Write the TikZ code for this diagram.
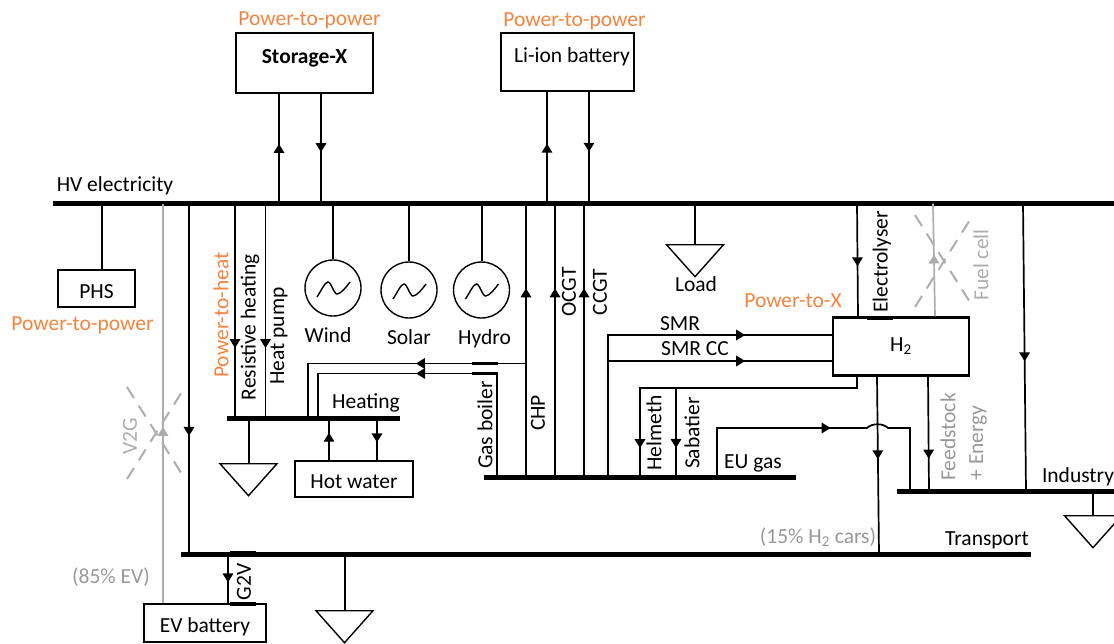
\documentclass[tikz,border=0pt]{standalone}
\usepackage{fontspec}
\setmainfont{Carlito}
\usepackage{tikz}
\usetikzlibrary{arrows.meta,positioning,shapes.geometric,shapes.misc,decorations.markings}

\definecolor{ptxorange}{HTML}{F4843F}
\definecolor{offgray}{HTML}{ADADAD}
\definecolor{notegray}{HTML}{989898}

\begin{document}
\begin{tikzpicture}[
      x=1pt, y=-1pt,
      every node/.style={font=\fontsize{21.5}{24}\selectfont},
      busbar/.style={rectangle, fill=black, inner sep=0pt, minimum height=5pt},
      linkbar/.style={rectangle, fill=black, inner sep=0pt, minimum width=26pt, minimum height=3.5pt},
      unit/.style={rectangle, draw, line width=2pt, inner sep=0pt, text height=14pt, text depth=5pt},
      generator/.style={circle, draw, line width=1.4pt, inner sep=0pt, minimum size=56pt,
            path picture={\draw[line width=1.4pt] (path picture bounding box.center) ++(-16,9)
                  .. controls +(4,-6) and +(-3,0) .. ++(11,-15)
                  .. controls +(3,0) and +(-3,0) .. ++(9,12)
                  .. controls +(4,0) and +(-3,4) .. ++(13,-12);}},
      loadsym/.style={isosceles triangle, shape border rotate=270, isosceles triangle stretches,
            draw, line width=1.4pt, inner sep=0pt, minimum width=57pt, minimum height=32pt, anchor=north},
      crossmark/.style={cross out, draw=offgray, line width=2pt, dash pattern=on 13pt off 9pt,
            inner sep=0pt, minimum width=56pt, minimum height=90pt},
      vlabel/.style={rotate=90, inner sep=0pt},
      ptx/.style={text=ptxorange, inner sep=0pt},
      note/.style={text=notegray, inner sep=0pt},
      offlabel/.style={text=offgray, inner sep=0pt},
      plain/.style={inner sep=0pt},
      link/.style={line width=2pt},
      flowat/.style={line width=1.7pt, decoration={markings, mark=at position #1 with
            {\arrow{Triangle[length=9pt,width=10.5pt]}}}, postaction={decorate}}
]
      \useasboundingbox (0,0) rectangle (1114,643);

      % buses
      \node[busbar, minimum width=1061pt] (hv) at (583.5,203.5) {};
      \node[busbar, minimum width=173pt] (heat) at (313.5,418) {};
      \node[busbar, minimum width=312pt] (gas) at (640,477) {};
      \node[busbar, minimum width=220pt] (industry) at (1007,491) {};
      \node[busbar, minimum width=850pt] (transport) at (606,554) {};

      % units
      \node[unit, line width=2.4pt, text depth=14pt, minimum width=137pt, minimum height=60pt] (storage) at (304.5,63) {\textbf{Storage-X}};
      \node[unit, text depth=13pt, minimum width=133pt, minimum height=58pt] (liion) at (567.5,62) {\hspace*{9pt}Li-ion battery};
      \node[unit, text height=24pt, minimum width=77pt, minimum height=37pt] (phs) at (96.5,288.5) {PHS};
      \node[unit, text height=24pt, minimum width=118pt, minimum height=36pt] (hotwater) at (354,479) {Hot water};
      \node[unit, text height=24pt, minimum width=122pt, minimum height=38pt] (ev) at (205,623) {EV battery};
      \node[unit, line width=2.4pt, minimum width=136pt, minimum height=58pt] (hydrogen) at (901,346.5) {H\textsubscript{2}};

      \node[generator] (wind) at (333,288) {};
      \node[generator] (solar) at (409,290) {};
      \node[generator] (hydro) at (481.5,290) {};

      \node[loadsym] (heatload) at (248.5,463) {};
      \node[loadsym] (mainload) at (695,244) {};
      \node[loadsym] (evload) at (344.5,610) {};
      \node[loadsym] (indload) at (1093,515) {};

      \node[crossmark] (v2gcross) at (156,433) {};
      \node[crossmark] (fccross) at (944,261) {};

      % labels
      \node[ptx, above=3pt of storage, xshift=5pt] (storagetag) {Power-to-power};
      \node[ptx, above=2pt of liion, xshift=7pt] (liiontag) {Power-to-power};
      \node[ptx, below=8pt of phs, xshift=-14pt] (phstag) {Power-to-power};
      \node[ptx, vlabel] (heattag) at (221,315) {Power-to-heat};
      \node[ptx] (xtag) at (793,301) {Power-to-X};
      \node[plain] (hvlabel) at (115,186) {HV electricity};
      \node[plain, below=11pt of wind, xshift=-5pt] (windlabel) {Wind};
      \node[plain, below=11pt of solar] (solarlabel) {Solar};
      \node[plain, below=11pt of hydro, xshift=3pt] (hydrolabel) {Hydro};
      \node[plain] (heatlabel) at (366,403) {Heating};
      \node[plain] (loadlabel) at (696,284) {Load};
      \node[plain] (smrlabel) at (680,324) {SMR};
      \node[plain] (smrcclabel) at (695,349) {SMR CC};
      \node[plain] (eulabel) at (753,463) {EU gas};
      \node[plain] (indlabel) at (1078,477) {Industry};
      \node[plain] (translabel) at (987,540) {Transport};
      \node[note] (h2cars) at (818,537) {(15\% H\textsubscript{2} cars)};
      \node[note] (evshare) at (111,577) {(85\% EV)};
      \node[vlabel] (resistlabel) at (250,327) {Resistive heating};
      \node[vlabel] (pumplabel) at (279,336) {Heat pump};
      \node[vlabel] (boilerlabel) at (485,425) {Gas boiler};
      \node[vlabel] (chplabel) at (538,413) {CHP};
      \node[vlabel] (ocgtlabel) at (569,292) {OCGT};
      \node[vlabel] (ccgtlabel) at (600,292) {CCGT};
      \node[vlabel] (helmethlabel) at (654,433) {Helmeth};
      \node[vlabel] (sabatierlabel) at (692,433) {Sabatier};
      \node[vlabel] (electrolabel) at (882,262) {Electrolyser};
      \node[vlabel] (g2vlabel) at (244,582) {G2V};
      \node[vlabel, offlabel] (fclabel) at (981,265) {Fuel cell};
      \node[vlabel, note] (feedlabel) at (948,437) {Feedstock};
      \node[vlabel, note] (energylabel) at (978,443) {+ Energy};
      \node[vlabel, offlabel] (v2glabel) at (130,436) {V2G};

      % small bars on the links
      \node[linkbar, minimum height=2.6pt] (barboilera) at (484.5,363.5) {};
      \node[linkbar, minimum height=2.6pt] (barboilerb) at (484.5,373.5) {};
      \node[linkbar] (barelectro) at (880,318) {};
      \node[linkbar] (barg2va) at (243,552.5) {};
      \node[linkbar] (barg2vb) at (243,604) {};

      % helper points
      \coordinate (hopa) at (867,428);
      \coordinate (hopb) at (888,428);
      \coordinate (gasleft) at (308,363.5);
      \coordinate (gasright) at (318,373.5);
      \coordinate (chpx) at (526,0);
      \coordinate (boilerx) at (497,0);
      \coordinate (smrx) at (608,0);

      % to and from the HV bus
      \draw[link, flowat=0.545] (hv.center -| 279,0) -- (storage.south -| 279,0);
      \draw[link, flowat=0.53] (storage.south -| 321,0) -- (hv.center -| 321,0);
      \draw[link, flowat=0.536] (hv.center -| 547,0) -- (liion.south -| 547,0);
      \draw[link, flowat=0.536] (liion.south -| 589,0) -- (hv.center -| 589,0);
      \draw[link] (hv.center -| 102,0) -- (phs.north -| 102,0);
      \draw[link] (hv.center -| wind.north) -- (wind.north);
      \draw[link] (hv.center -| solar.north) -- (solar.north);
      \draw[link] (hv.center -| hydro.north) -- (hydro.north);
      \draw[link] (hv.center -| mainload.north) -- (mainload.north);
      \draw[link, flowat=0.663] (hv.center -| 189,0) -- (transport.center -| 189,0);
      \draw[flowat=0.674] (hv.center -| 235,0) -- (heat.center -| 235,0);
      \draw[flowat=0.674] (hv.center -| 265.5,0) -- (heat.center -| 265.5,0);
      \draw[flowat=0.69] (gas.center -| chpx) -- (hv.center -| chpx);
      \draw[flowat=0.69] (gas.center -| 555,0) -- (hv.center -| 555,0);
      \draw[flowat=0.69] (gas.center -| 584,0) -- (hv.center -| 584,0);
      \draw[flowat=0.557] (hv.center -| 857,0) -- (hydrogen.north -| 858,0);
      \draw[flowat=0.549] (hv.center -| 1023,0) -- (industry.center -| 1026,0);
      \draw[line width=2pt, color=offgray, flowat=0.548] (hydrogen.north -| 935,0) -- (hv.center -| 933,0);
      \draw[line width=2pt, color=offgray, flowat=0.441] (ev.north -| 163,0) -- (hv.center -| 163,0);

      % heat
      \draw[flowat=0.564] (gas.center -| boilerx) -- (boilerx |- gasright) -- (gasright) -- (heat.center -| gasright);
      \draw[flowat=0.404] (chpx |- gasleft) -- (gasleft) -- (heat.center -| gasleft);
      \draw[link, flowat=0.65] (hotwater.north -| 329,0) -- (heat.center -| 329,0);
      \draw[link, flowat=0.58] (heat.center -| 377,0) -- (hotwater.north -| 377,0);
      \draw[link] (heat.center -| heatload.north) -- (heatload.north);

      % gas and hydrogen
      \draw[flowat=0.763] (gas.center -| smrx) |- (hydrogen.west |- 0,335);
      \draw[flowat=0.745] (gas.center -| smrx) |- (hydrogen.west |- 0,361);
      \draw[flowat=0.909] (hydrogen.south -| 857,0) |- (640,388) -- (gas.center -| 640,0);
      \draw[flowat=0.674] (676,388) -- (gas.center -| 676,0);
      \draw[flowat=0.53] (gas.center -| 717,0) |- (hopa) .. controls (872,423) and (883,423) .. (hopb) -| (industry.center -| 910,0);
      \draw[flowat=0.466] (hydrogen.south -| 877,0) -- (transport.center -| 879,0);
      \draw[flowat=0.716] (hydrogen.south -| 928,0) -- (industry.center -| 929,0);

      % loads and vehicles
      \draw[link] (transport.center -| evload.north) -- (evload.north);
      \draw[link] (industry.center -| indload.north) -- (indload.north);
      \draw[link, flowat=0.58] (transport.center -| 228,0) -- (ev.north -| 228,0);
\end{tikzpicture}
\end{document}
